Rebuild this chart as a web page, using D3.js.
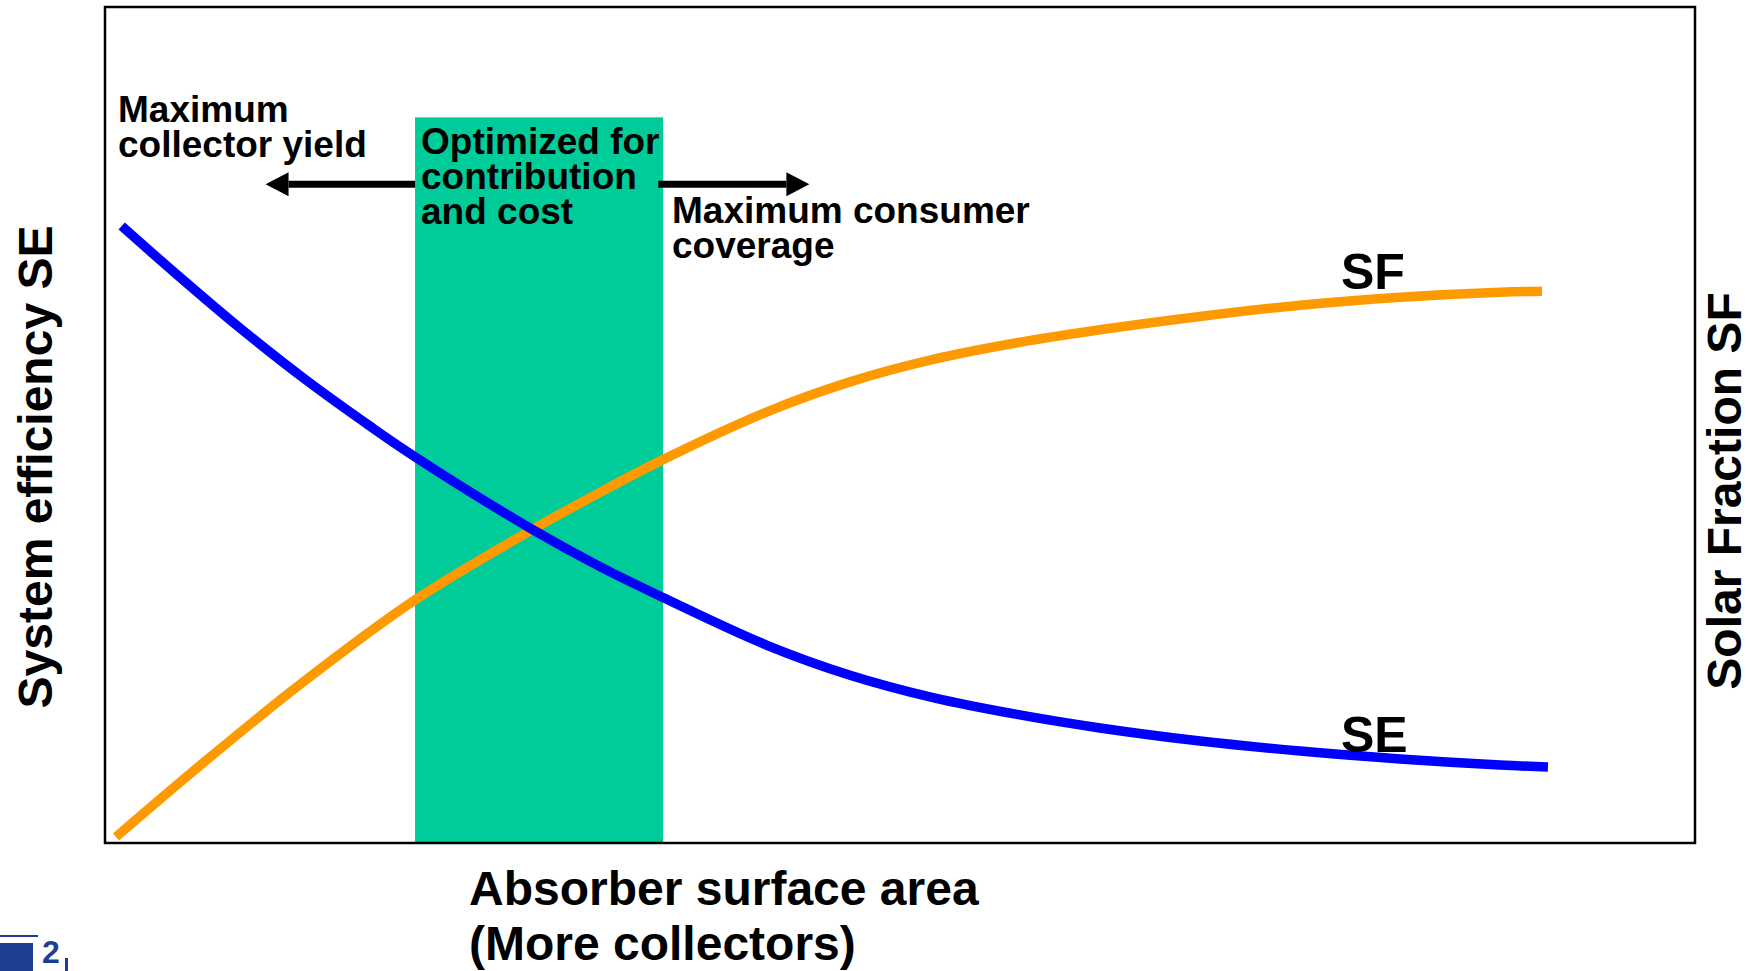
<!DOCTYPE html>
<html>
<head>
<meta charset="utf-8">
<script src="https://cdn.jsdelivr.net/npm/d3@7/dist/d3.min.js"></script>
<style>
  html, body { margin: 0; padding: 0; background: #fff; }
  svg { display: block; }
  text { font-family: "Liberation Sans", Arial, Helvetica, sans-serif; font-weight: bold; fill: #000; }
</style>
</head>
<body>
<svg id="chart" width="1752" height="971"></svg>
<script>
// Relative absorber area (0-100) and curve values (0-100, shared by both axes)
const areaSE = [1.05, 4.19, 8.38, 12.58, 16.79, 19.56, 26.73, 31.13, 35.09, 41.64, 46.86, 52.08, 57.36, 62.58, 68.87, 75.16, 81.45, 87.74, 90.75];
const systemEfficiency = [73.80, 68.54, 61.77, 55.47, 49.70, 46.12, 37.67, 33.06, 29.37, 23.65, 20.07, 17.39, 15.38, 13.76, 12.20, 11.00, 10.05, 9.33, 9.09];

const areaSF = [0.69, 5.97, 12.26, 19.56, 26.73, 31.13, 35.09, 41.64, 46.86, 52.08, 57.36, 62.58, 68.87, 75.16, 81.45, 87.74, 90.38];
const solarFraction = [0.72, 9.26, 18.95, 29.15, 37.33, 41.94, 45.86, 51.58, 55.16, 57.84, 59.84, 61.39, 62.98, 64.33, 65.29, 65.89, 66.00];

// Optimum sizing band and the arrows pointing away from it
const optimumBand = [19.5, 35.1];
const bandTop = 86.8;
const arrowLevel = 78.8;
const arrowLeftTip = 10.1;
const arrowRightTip = 44.3;

const annotationLeft = ["Maximum", "collector yield"];
const annotationBand = ["Optimized for", "contribution", "and cost"];
const annotationRight = ["Maximum consumer", "coverage"];
const xTitle = ["Absorber surface area", "(More collectors)"];
const yLeftTitle = "System efficiency SE";
const yRightTitle = "Solar Fraction SF";

const svg = d3.select("#chart");
const frame = { left: 105, top: 7, right: 1695, bottom: 843 };

const x = d3.scaleLinear().domain([0, 100]).range([frame.left, frame.right]);
const y = d3.scaleLinear().domain([0, 100]).range([frame.bottom, frame.top]);

// optimum band
svg.append("rect")
  .attr("x", x(optimumBand[0]))
  .attr("y", y(bandTop))
  .attr("width", x(optimumBand[1]) - x(optimumBand[0]))
  .attr("height", y(0) - y(bandTop))
  .attr("fill", "#00cc99");

// curves
const line = d3.line().curve(d3.curveCatmullRom.alpha(0.5));

svg.append("path")
  .attr("d", line(areaSF.map((a, i) => [x(a), y(solarFraction[i])])))
  .attr("fill", "none")
  .attr("stroke", "#ff9900")
  .attr("stroke-width", 9.5);

svg.append("path")
  .attr("d", line(areaSE.map((a, i) => [x(a), y(systemEfficiency[i])])))
  .attr("fill", "none")
  .attr("stroke", "#0000ff")
  .attr("stroke-width", 9.5);

// plot frame
svg.append("rect")
  .attr("x", frame.left)
  .attr("y", frame.top)
  .attr("width", frame.right - frame.left)
  .attr("height", frame.bottom - frame.top)
  .attr("fill", "none")
  .attr("stroke", "#000")
  .attr("stroke-width", 2.5);

// arrows
function arrow(fromV, toV) {
  const x0 = x(fromV), x1 = x(toV), yy = y(arrowLevel);
  const dir = Math.sign(x1 - x0);
  const head = 23, half = 12;
  svg.append("line")
    .attr("x1", x0).attr("y1", yy)
    .attr("x2", x1 - dir * head).attr("y2", yy)
    .attr("stroke", "#000").attr("stroke-width", 7);
  svg.append("path")
    .attr("d", `M${x1},${yy} L${x1 - dir * head},${yy - half} L${x1 - dir * head},${yy + half} Z`)
    .attr("fill", "#000");
}
arrow(optimumBand[0], arrowLeftTip);
arrow(optimumBand[1] - 0.3, arrowRightTip);

// annotations
function block(lines, x0, y0, lh, size) {
  const t = svg.append("text").attr("font-size", size);
  lines.forEach((s, i) => t.append("tspan").attr("x", x0).attr("y", y0 + i * lh).text(s));
}
block(annotationLeft, 118, 122, 35, 37);
block(annotationBand, x(optimumBand[0]) + 6, 154, 35, 37);
block(annotationRight, 672, 223, 35, 37);

// curve labels
svg.append("text").attr("x", 1341).attr("y", 289).attr("font-size", 50).text("SF");
svg.append("text").attr("x", 1341).attr("y", 752).attr("font-size", 50).text("SE");

// axis titles
block(xTitle, 469, 905, 55, 48);

svg.append("text")
  .attr("transform", `translate(52, 467) rotate(-90)`)
  .attr("text-anchor", "middle")
  .attr("font-size", 48)
  .text(yLeftTitle);

svg.append("text")
  .attr("transform", `translate(1741, 491) rotate(-90)`)
  .attr("text-anchor", "middle")
  .attr("font-size", 48)
  .text(yRightTitle);

// footer logo fragment
const logo = svg.append("g");
logo.append("rect").attr("x", 0).attr("y", 943).attr("width", 33).attr("height", 28).attr("fill", "#1d3f8f");
logo.append("rect").attr("x", 0).attr("y", 935).attr("width", 38).attr("height", 2).attr("fill", "#1d3f8f");
logo.append("text").attr("x", 42).attr("y", 963).attr("font-size", 32)
  .style("fill", "#1d3f8f").text("2");
logo.append("rect").attr("x", 65).attr("y", 958).attr("width", 3).attr("height", 13).attr("fill", "#1d3f8f");
</script>
</body>
</html>
